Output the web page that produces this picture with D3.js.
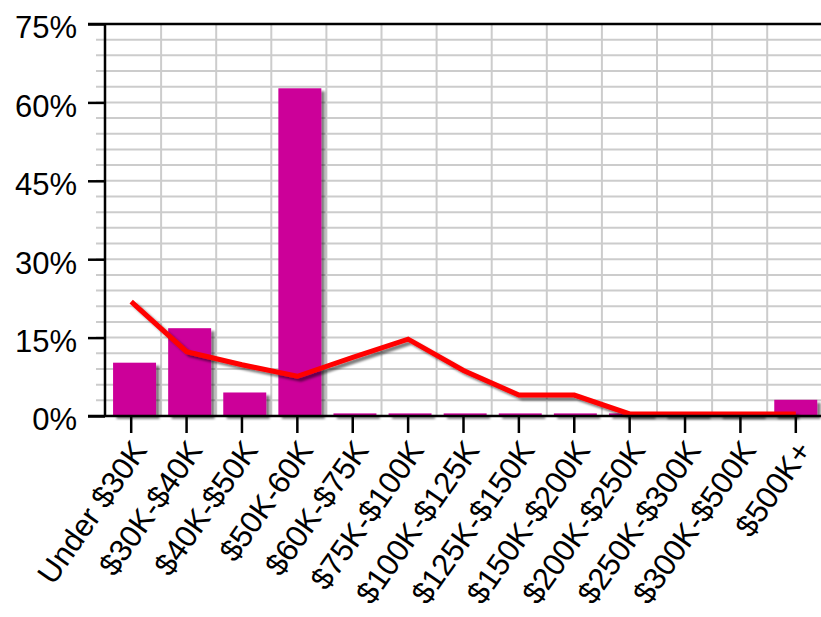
<!DOCTYPE html>
<html><head><meta charset="utf-8">
<script src="https://cdn.jsdelivr.net/npm/d3@7"></script>
<style>body{margin:0;background:#fff;} svg{display:block;font-family:"Liberation Sans",Arial,sans-serif;}</style>
</head><body>
<svg id="c" width="821" height="617"></svg>
<script>
const categories = ["Under $30K","$30K-$40K","$40K-$50K","$50K-60K","$60K-$75K","$75K-$100K","$100K-$125K","$125K-$150K","$150K-$200K","$200K-$250K","$250K-$300K","$300K-$500K","$500K+"];
const barValues = [10.2, 16.8, 4.5, 62.7, 0.5, 0.5, 0.5, 0.5, 0.5, 0.5, 0.5, 0.5, 3.1];
const lineValues = [21.9, 12.3, 9.8, 7.6, 11.2, 14.7, 8.7, 4.0, 4.0, 0.4, 0.4, 0.4, 0.4];
const yTicks = [0, 15, 30, 45, 60, 75];
const yMinor = d3.range(0, 76, 3);

const svg = d3.select("#c");
const mLeft = 105, mTop = 24, mBottom = 416;
// tick / line positions
const x = d3.scaleBand().domain(categories).range([103.5, 823.5]).paddingInner(0.22).paddingOuter(0.11);
// bar / gridline positions
const xb = d3.scaleBand().domain(categories).range([104, 820.3]).paddingInner(0.22).paddingOuter(0.11);
const y = d3.scaleLinear().domain([0, 75]).range([mBottom, mTop]);
const stepB = xb.step();

const defs = svg.append("defs");
const f = defs.append("filter").attr("id","sh").attr("x","-20%").attr("y","-20%").attr("width","150%").attr("height","150%");
f.append("feDropShadow").attr("dx",3.5).attr("dy",3).attr("stdDeviation",1.3).attr("flood-color","#000").attr("flood-opacity",0.5);

// horizontal gridlines
svg.append("g").selectAll("line").data(yMinor).join("line")
  .attr("x1", 96).attr("x2", 821).attr("y1", d => y(d)).attr("y2", d => y(d))
  .attr("stroke", "#cccccc").attr("stroke-width", 2);
// vertical gridlines
svg.append("g").selectAll("line").data(categories.slice(0, -1)).join("line")
  .attr("x1", d => xb(d) - xb.paddingInner()*stepB/2 + stepB + 2).attr("x2", d => xb(d) - xb.paddingInner()*stepB/2 + stepB + 2)
  .attr("y1", mTop).attr("y2", mBottom)
  .attr("stroke", "#cccccc").attr("stroke-width", 2);

// bars
svg.append("g").attr("filter","url(#sh)").selectAll("rect").data(barValues).join("rect")
  .attr("x", (d,i) => xb(categories[i]) + 3)
  .attr("width", xb.bandwidth())
  .attr("y", d => y(d))
  .attr("height", d => mBottom - y(d))
  .attr("fill", "#cc0099");

// line
const line = d3.line().x((d,i) => x(categories[i]) + x.bandwidth()/2).y(d => y(d));
svg.append("path").datum(lineValues).attr("d", line)
  .attr("fill","none").attr("stroke","#ff0000").attr("stroke-width",5)
  .attr("stroke-linejoin","miter").attr("filter","url(#sh)");

// axes frame
svg.append("line").attr("x1", 88).attr("x2", 821).attr("y1", mTop).attr("y2", mTop).attr("stroke","#000").attr("stroke-width",2.5);
svg.append("line").attr("x1", 88).attr("x2", 821).attr("y1", mBottom).attr("y2", mBottom).attr("stroke","#000").attr("stroke-width",2.5);
svg.append("line").attr("x1", mLeft).attr("x2", mLeft).attr("y1", mTop).attr("y2", mBottom).attr("stroke","#000").attr("stroke-width",2.5);

// y axis
const yAxis = d3.axisLeft(y).tickValues(yTicks).tickFormat(d => d + "%").tickSize(17).tickPadding(10);
const gy = svg.append("g").attr("transform", `translate(${mLeft},0)`).call(yAxis);
gy.select(".domain").remove();
gy.selectAll(".tick line").attr("stroke","#000").attr("stroke-width",2.5);
gy.selectAll(".tick text").attr("font-size", 31).attr("fill","#000").attr("font-family","Liberation Sans, Arial, sans-serif").attr("x", -28).attr("dy","0.45em");

// x axis
const xAxis = d3.axisBottom(x).tickSize(17).tickPadding(4);
const gx = svg.append("g").attr("transform", `translate(0,${mBottom})`).call(xAxis);
gx.select(".domain").remove();
gx.selectAll(".tick line").attr("stroke","#000").attr("stroke-width",2.5);
gx.selectAll(".tick text").attr("font-size", 31).attr("fill","#000").attr("font-family","Liberation Sans, Arial, sans-serif")
  .attr("text-anchor","end").attr("x", 0).attr("y", 0).attr("dy", "0.71em")
  .attr("transform","translate(-1,22) rotate(-55)");
</script>
</body></html>
